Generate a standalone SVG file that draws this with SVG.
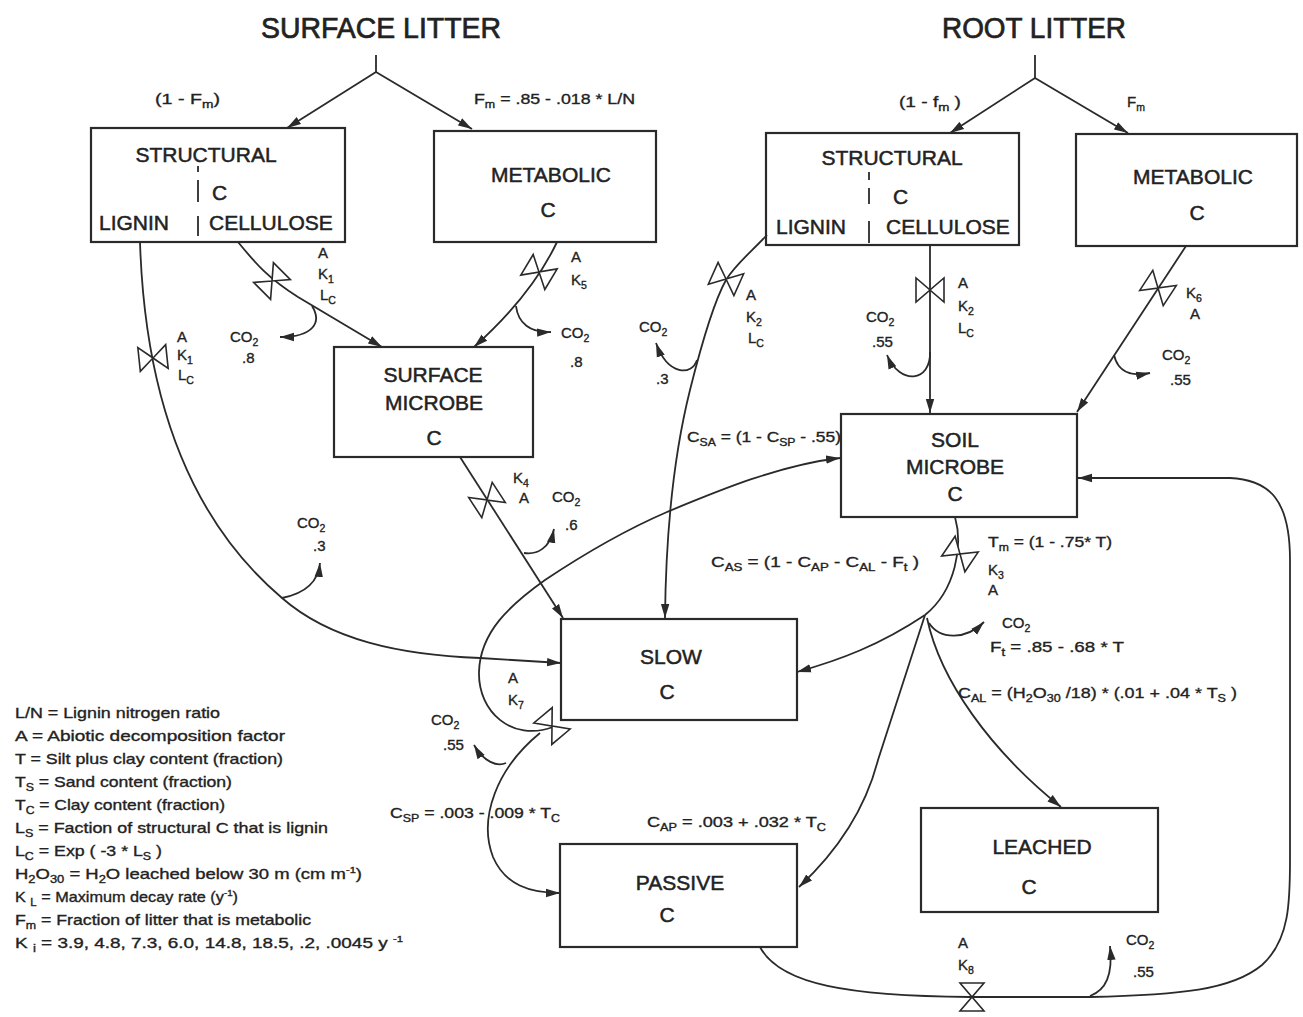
<svg xmlns="http://www.w3.org/2000/svg" width="1303" height="1017" viewBox="0 0 1303 1017">
<defs>
<marker id="ah" markerUnits="userSpaceOnUse" markerWidth="15" markerHeight="10" refX="14" refY="5" orient="auto">
<path d="M0,0.8 L14,5 L0,9.2 Z" fill="#2a2a2a"/>
</marker>
<path id="valve" d="M-14,-12 L-14,12 L0,0 Z M14,-12 L14,12 L0,0 Z"/>
</defs>
<style>
.box{fill:#fff;stroke:#2a2a2a;stroke-width:2.2}
.ln{fill:none;stroke:#2a2a2a;stroke-width:1.8}
.arr{marker-end:url(#ah)}
.v{fill:#fff;stroke:#2a2a2a;stroke-width:1.6}
text{font-family:"Liberation Sans",Arial,Helvetica,sans-serif;fill:#222;stroke:#222;stroke-width:0.35}
.ti{font-size:29px;stroke-width:0.7}
.bl{font-size:21px;text-anchor:middle;stroke-width:0.5}
.bs{font-size:21px;stroke-width:0.5}
.sm{font-size:15px}
.lg{font-size:15px}
.s{font-size:10.5px;baseline-shift:-4px}
.sp{font-size:9px;baseline-shift:6px}
.dv{stroke:#2a2a2a;stroke-width:1.8}
</style>
<rect width="1303" height="1017" fill="#fff"/>

<g id="titles">
<text class="ti" x="261" y="38" textLength="240" lengthAdjust="spacingAndGlyphs">SURFACE LITTER</text>
<text class="ti" x="942" y="38" textLength="184" lengthAdjust="spacingAndGlyphs">ROOT LITTER</text>
</g>

<g id="surface-structural">
<rect class="box" x="91" y="128" width="254" height="114"/>
<text class="bl" x="206" y="162">STRUCTURAL</text>
<line class="dv" x1="198" y1="166" x2="198" y2="172"/>
<line class="dv" x1="198" y1="180" x2="198" y2="202"/>
<line class="dv" x1="198" y1="216" x2="198" y2="236"/>
<text class="bs" x="212" y="200">C</text>
<text class="bs" x="99" y="230">LIGNIN</text>
<text class="bs" x="209" y="230">CELLULOSE</text>
</g>
<g id="surface-metabolic">
<rect class="box" x="434" y="131" width="222" height="111"/>
<text class="bl" x="551" y="182">METABOLIC</text>
<text class="bl" x="548" y="217">C</text>
</g>
<g id="root-structural">
<rect class="box" x="766" y="133" width="253" height="112"/>
<text class="bl" x="892" y="165">STRUCTURAL</text>
<line class="dv" x1="869" y1="172" x2="869" y2="180"/>
<line class="dv" x1="869" y1="188" x2="869" y2="204"/>
<line class="dv" x1="869" y1="221" x2="869" y2="243"/>
<text class="bs" x="893" y="204">C</text>
<text class="bs" x="776" y="234">LIGNIN</text>
<text class="bs" x="886" y="234">CELLULOSE</text>
</g>
<g id="root-metabolic">
<rect class="box" x="1076" y="134" width="221" height="112"/>
<text class="bl" x="1193" y="184">METABOLIC</text>
<text class="bl" x="1197" y="220">C</text>
</g>
<g id="surface-microbe">
<rect class="box" x="334" y="347" width="199" height="110"/>
<text class="bl" x="433" y="382">SURFACE</text>
<text class="bl" x="434" y="410">MICROBE</text>
<text class="bl" x="434" y="445">C</text>
</g>
<g id="soil-microbe">
<rect class="box" x="841" y="414" width="236" height="103"/>
<text class="bl" x="955" y="447">SOIL</text>
<text class="bl" x="955" y="474">MICROBE</text>
<text class="bl" x="955" y="501">C</text>
</g>
<g id="slow">
<rect class="box" x="561" y="619" width="236" height="101"/>
<text class="bl" x="671" y="664">SLOW</text>
<text class="bl" x="667" y="699">C</text>
</g>
<g id="passive">
<rect class="box" x="560" y="844" width="237" height="103"/>
<text class="bl" x="680" y="890">PASSIVE</text>
<text class="bl" x="667" y="922">C</text>
</g>
<g id="leached">
<rect class="box" x="921" y="808" width="237" height="104"/>
<text class="bl" x="1042" y="854">LEACHED</text>
<text class="bl" x="1029" y="894">C</text>
</g>

<g id="connectors">
<path class="ln" d="M376,55 L376,72"/>
<path class="ln arr" d="M376,72 L287,128"/>
<path class="ln arr" d="M376,72 L472,129"/>
<path class="ln" d="M1035,55 L1035,78"/>
<path class="ln arr" d="M1035,78 L950,133"/>
<path class="ln arr" d="M1035,78 L1128,133"/>
<path class="ln arr" d="M238,242 C256,264 268,278 298,297 L382,347"/>
<path class="ln arr" d="M312,306 C322,322 314,337 280,337"/>
<path class="ln arr" d="M557,242 Q532,295 474,347"/>
<path class="ln arr" d="M516,306 C518,323 530,333 551,332"/>
<path class="ln" d="M140,242 C145,400 190,520 282,598 C330,640 400,655 480,658"/>
<path class="ln arr" d="M480,658 L561,663"/>
<path class="ln arr" d="M282,598 C302,594 318,585 320,563"/>
<path class="ln arr" d="M767,235 C748,255 735,265 726,280 C712,305 700,350 690,390 C675,450 666,520 665,618"/>
<path class="ln arr" d="M697,360 C692,376 668,376 656,343"/>
<path class="ln arr" d="M930,245 L930,413"/>
<path class="ln arr" d="M930,352 C931,382 900,386 887,355"/>
<path class="ln arr" d="M1186,246 L1077,412"/>
<path class="ln arr" d="M1114,355 C1118,372 1130,377 1150,373"/>
<path class="ln arr" d="M460,457 L563,618"/>
<path class="ln arr" d="M524,553 C537,555 550,548 554,529"/>
<path class="ln arr" d="M553,727 C512,742 478,712 479,672 C480,632 510,605 545,580 C590,550 630,528 667,512 C720,490 780,465 840,458"/>
<path class="ln arr" d="M540,733 C497,768 478,818 493,857 C505,885 530,893 560,893"/>
<path class="ln arr" d="M506,763 C497,767 484,762 474,745"/>
<path class="ln" d="M955,517 C963,545 956,590 925,615"/>
<path class="ln arr" d="M925,615 C880,645 840,660 797,672"/>
<path class="ln arr" d="M925,615 L878,760 Q860,830 799,887"/>
<path class="ln arr" d="M927,618 C940,680 990,750 1061,807"/>
<path class="ln arr" d="M929,623 C940,640 966,640 984,622"/>
<path class="ln arr" d="M760,947 C780,985 850,996 970,997 L1090,997 C1180,995 1232,990 1262,965 C1290,940 1290,900 1290,860 L1290,560 C1290,500 1270,480 1230,478 L1078,478"/>
<path class="ln arr" d="M1090,996 C1106,990 1113,975 1110,946"/>
</g>

<g id="valves" class="v">
<use href="#valve" transform="translate(272,281) rotate(-45)"/>
<use href="#valve" transform="translate(539,272) rotate(31)"/>
<use href="#valve" transform="translate(153,358) rotate(-6)"/>
<use href="#valve" transform="translate(726,279) rotate(24)"/>
<use href="#valve" transform="translate(930,290)"/>
<use href="#valve" transform="translate(1158,288) rotate(33)"/>
<use href="#valve" transform="translate(487,500) rotate(-33)"/>
<use href="#valve" transform="translate(960,554) rotate(34)"/>
<use href="#valve" transform="translate(552,726) rotate(50)"/>
<use href="#valve" transform="translate(972,997) rotate(90)"/>
</g>

<g id="labels" class="sm">
<text x="155" y="104" textLength="65" lengthAdjust="spacingAndGlyphs">(1 - F<tspan class="s">m</tspan>)</text>
<text x="474" y="104" textLength="161" lengthAdjust="spacingAndGlyphs">F<tspan class="s">m</tspan> = .85 - .018 * L/N</text>
<text x="899" y="107" textLength="62" lengthAdjust="spacingAndGlyphs">(1 - f<tspan class="s">m</tspan> )</text>
<text x="1127" y="107">F<tspan class="s">m</tspan></text>

<text x="318" y="258">A</text>
<text x="318" y="279">K<tspan class="s">1</tspan></text>
<text x="320" y="300">L<tspan class="s">C</tspan></text>
<text x="230" y="342">CO<tspan class="s">2</tspan></text>
<text x="242" y="363">.8</text>

<text x="571" y="262">A</text>
<text x="571" y="285">K<tspan class="s">5</tspan></text>
<text x="561" y="338">CO<tspan class="s">2</tspan></text>
<text x="570" y="367">.8</text>

<text x="177" y="342">A</text>
<text x="177" y="360">K<tspan class="s">1</tspan></text>
<text x="178" y="380">L<tspan class="s">C</tspan></text>
<text x="297" y="528">CO<tspan class="s">2</tspan></text>
<text x="313" y="551">.3</text>

<text x="746" y="300">A</text>
<text x="746" y="322">K<tspan class="s">2</tspan></text>
<text x="748" y="343">L<tspan class="s">C</tspan></text>
<text x="639" y="332">CO<tspan class="s">2</tspan></text>
<text x="656" y="384">.3</text>

<text x="958" y="288">A</text>
<text x="958" y="311">K<tspan class="s">2</tspan></text>
<text x="958" y="333">L<tspan class="s">C</tspan></text>
<text x="866" y="322">CO<tspan class="s">2</tspan></text>
<text x="872" y="347">.55</text>

<text x="1186" y="298">K<tspan class="s">6</tspan></text>
<text x="1190" y="319">A</text>
<text x="1162" y="360">CO<tspan class="s">2</tspan></text>
<text x="1170" y="385">.55</text>

<text x="513" y="483">K<tspan class="s">4</tspan></text>
<text x="519" y="503">A</text>
<text x="552" y="502">CO<tspan class="s">2</tspan></text>
<text x="565" y="530">.6</text>

<text x="687" y="442" textLength="154" lengthAdjust="spacingAndGlyphs">C<tspan class="s">SA</tspan> = (1 - C<tspan class="s">SP</tspan> - .55)</text>
<text x="711" y="567" textLength="208" lengthAdjust="spacingAndGlyphs">C<tspan class="s">AS</tspan> = (1 - C<tspan class="s">AP</tspan> - C<tspan class="s">AL</tspan> - F<tspan class="s">t</tspan> )</text>
<text x="988" y="547" textLength="124" lengthAdjust="spacingAndGlyphs">T<tspan class="s">m</tspan> = (1 - .75* T)</text>
<text x="988" y="575">K<tspan class="s">3</tspan></text>
<text x="988" y="595">A</text>
<text x="1002" y="628">CO<tspan class="s">2</tspan></text>
<text x="990" y="652" textLength="134" lengthAdjust="spacingAndGlyphs">F<tspan class="s">t</tspan> = .85 - .68 * T</text>
<text x="958" y="698" textLength="279" lengthAdjust="spacingAndGlyphs">C<tspan class="s">AL</tspan> = (H<tspan class="s">2</tspan>O<tspan class="s">30</tspan> /18) * (.01 + .04 * T<tspan class="s">S</tspan> )</text>

<text x="508" y="683">A</text>
<text x="508" y="705">K<tspan class="s">7</tspan></text>
<text x="431" y="725">CO<tspan class="s">2</tspan></text>
<text x="443" y="750">.55</text>
<text x="390" y="818" textLength="170" lengthAdjust="spacingAndGlyphs">C<tspan class="s">SP</tspan> = .003 - .009 * T<tspan class="s">C</tspan></text>
<text x="647" y="827" textLength="179" lengthAdjust="spacingAndGlyphs">C<tspan class="s">AP</tspan> = .003 + .032 * T<tspan class="s">C</tspan></text>

<text x="958" y="948">A</text>
<text x="958" y="970">K<tspan class="s">8</tspan></text>
<text x="1126" y="945">CO<tspan class="s">2</tspan></text>
<text x="1133" y="977">.55</text>
</g>

<g id="legend" class="lg">
<text x="15" y="718" textLength="205" lengthAdjust="spacingAndGlyphs">L/N = Lignin nitrogen ratio</text>
<text x="15" y="741" textLength="270" lengthAdjust="spacingAndGlyphs">A = Abiotic decomposition factor</text>
<text x="15" y="764" textLength="268" lengthAdjust="spacingAndGlyphs">T = Silt plus clay content (fraction)</text>
<text x="15" y="787" textLength="217" lengthAdjust="spacingAndGlyphs">T<tspan class="s">S</tspan> = Sand content (fraction)</text>
<text x="15" y="810" textLength="210" lengthAdjust="spacingAndGlyphs">T<tspan class="s">C</tspan> = Clay content (fraction)</text>
<text x="15" y="833" textLength="313" lengthAdjust="spacingAndGlyphs">L<tspan class="s">S</tspan> = Faction of structural C that is lignin</text>
<text x="15" y="856" textLength="147" lengthAdjust="spacingAndGlyphs">L<tspan class="s">C</tspan> = Exp ( -3 * L<tspan class="s">S</tspan> )</text>
<text x="15" y="879" textLength="347" lengthAdjust="spacingAndGlyphs">H<tspan class="s">2</tspan>O<tspan class="s">30</tspan> = H<tspan class="s">2</tspan>O leached below 30 m (cm m<tspan class="sp">-1</tspan>)</text>
<text x="15" y="902" textLength="223" lengthAdjust="spacingAndGlyphs">K <tspan class="s">L</tspan> = Maximum decay rate (y<tspan class="sp">-1</tspan>)</text>
<text x="15" y="925" textLength="296" lengthAdjust="spacingAndGlyphs">F<tspan class="s">m</tspan> = Fraction of litter that is metabolic</text>
<text x="15" y="948" textLength="388" lengthAdjust="spacingAndGlyphs">K <tspan class="s">i</tspan> = 3.9, 4.8, 7.3, 6.0, 14.8,  18.5, .2, .0045 y <tspan class="sp">-1</tspan></text>
</g>
</svg>
